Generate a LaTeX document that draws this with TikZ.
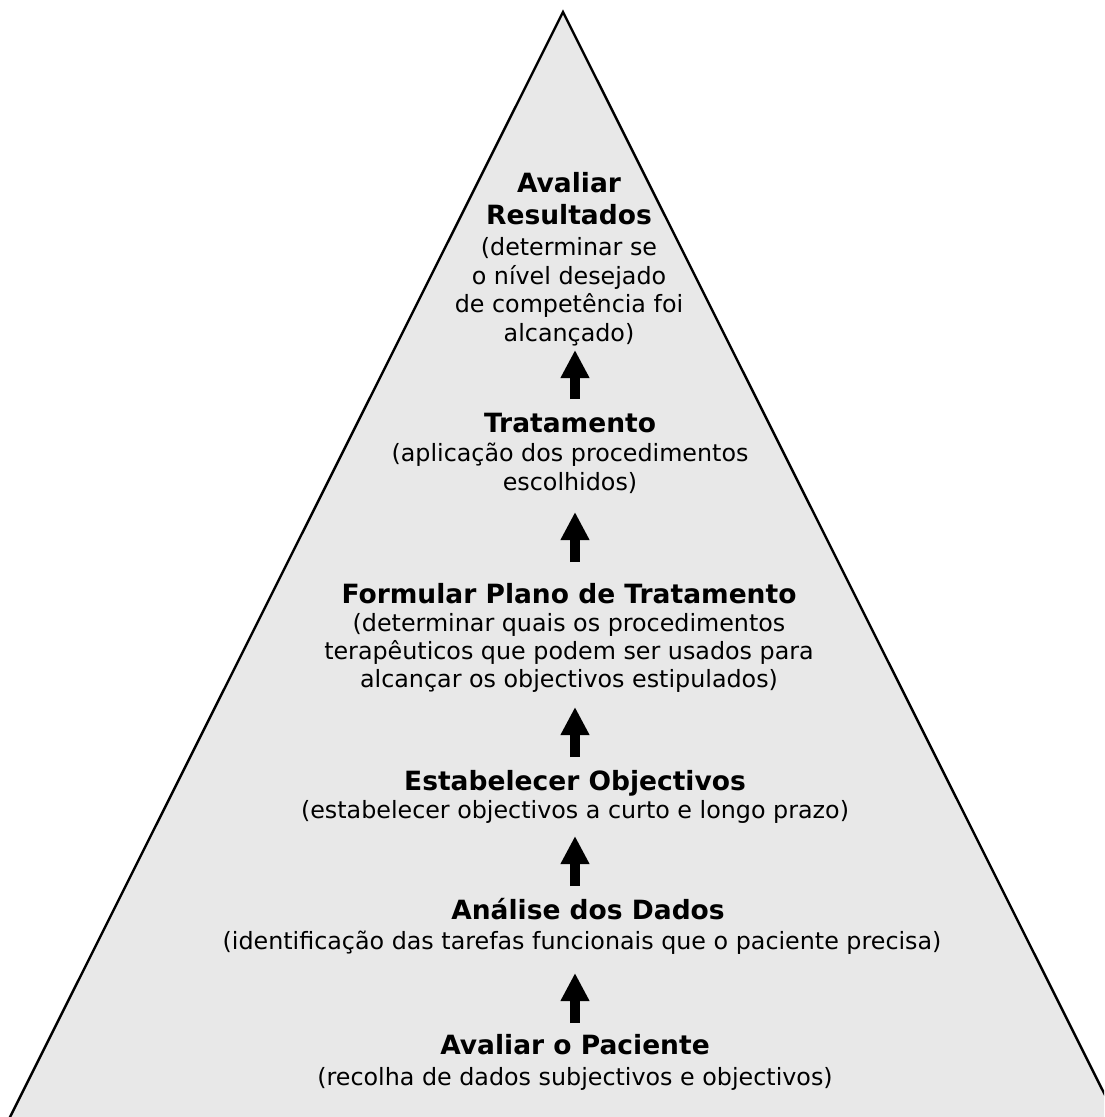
\documentclass[tikz,border=0pt]{standalone}
\usepackage{fontspec}
\setmainfont{DejaVu Sans}
\usetikzlibrary{arrows.meta}
\definecolor{pyrfill}{RGB}{232,232,232}
\tikzset{
  pyr/.style={draw=black, line width=2.4pt, line join=miter, fill=pyrfill},
  ttl/.style={anchor=base, inner sep=0pt, font=\fontsize{26.5}{30}\selectfont\bfseries},
  txt/.style={anchor=base, inner sep=0pt, font=\fontsize{23.8}{28}\selectfont},
  uparrow/.style={line width=10pt, -{Triangle[width=27pt,length=28pt]}}
}
\begin{document}
\begin{tikzpicture}[x=1pt,y=-1pt]
\useasboundingbox (0,0) rectangle (1104,1117);
\begin{scope}
\clip (0,0) rectangle (1104,1117);
\coordinate (apex) at (563,12);
\coordinate (bl) at (-20,1177);
\coordinate (br) at (1146,1177);
\draw[pyr] (apex) -- (br) -- (bl) -- cycle;
\end{scope}

% Block 1
\node[ttl] (b1a) at (569,192) {Avaliar};
\node[ttl] (b1b) at (569,224) {Resultados};
\node[txt] (b1c) at (569,255.5) {(determinar se};
\node[txt] (b1d) at (569,284) {o nível desejado};
\node[txt] (b1e) at (569,312.5) {de competência foi};
\node[txt] (b1f) at (569,341) {alcançado)};
% Block 2
\node[ttl] (b2a) at (570,432) {Tratamento};
\node[txt] (b2b) at (570,461) {(aplicação dos procedimentos};
\node[txt] (b2c) at (570,490) {escolhidos)};
% Block 3
\node[ttl] (b3a) at (569,603) {Formular Plano de Tratamento};
\node[txt] (b3b) at (569,631) {(determinar quais os procedimentos};
\node[txt] (b3c) at (569,659) {terapêuticos que podem ser usados para};
\node[txt] (b3d) at (569,687) {alcançar os objectivos estipulados)};
% Block 4
\node[ttl] (b4a) at (575,790) {Estabelecer Objectivos};
\node[txt] (b4b) at (575,818) {(estabelecer objectivos a curto e longo prazo)};
% Block 5
\node[ttl] (b5a) at (588,919) {Análise dos Dados};
\node[txt] (b5b) at (582,949) {(identificação das tarefas funcionais que o paciente precisa)};
% Block 6
\node[ttl] (b6a) at (575,1054) {Avaliar o Paciente};
\node[txt] (b6b) at (575,1085) {(recolha de dados subjectivos e objectivos)};

% Arrows
\coordinate (a1s) at (575,399);  \coordinate (a1e) at (575,350);
\coordinate (a2s) at (575,562);  \coordinate (a2e) at (575,512);
\coordinate (a3s) at (575,757);  \coordinate (a3e) at (575,707);
\coordinate (a4s) at (575,886);  \coordinate (a4e) at (575,836);
\coordinate (a5s) at (575,1023); \coordinate (a5e) at (575,973);
\foreach \i in {1,...,5}{\draw[uparrow] (a\i s) -- (a\i e);}
\end{tikzpicture}
\end{document}
